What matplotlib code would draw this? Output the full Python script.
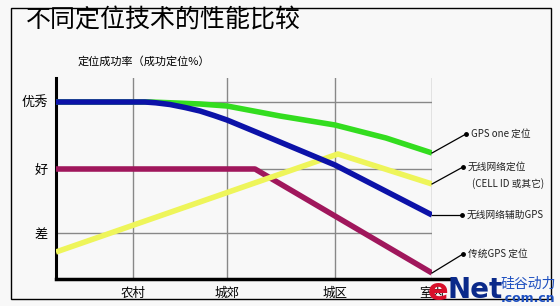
import matplotlib.pyplot as plt
from matplotlib.patches import Rectangle

plt.rcParams['font.family'] = ['Noto Sans CJK SC', 'DejaVu Sans']

# %% Data
title = '不同定位技术的性能比较'
ylabel = '定位成功率（成功定位%）'
x_labels = ['农村', '城郊', '城区', '室内']
x_pos = [0.77, 1.71, 2.79, 3.76]
y_labels = ['差', '好', '优秀']
y_pos = [0.46, 1.10, 1.77]

green_x = [0, 0.94, 1.20, 1.44, 1.71, 2.24, 2.79, 3.30, 3.76]
green_y = [1.77, 1.77, 1.76, 1.75, 1.73, 1.63, 1.54, 1.41, 1.26]
blue_x = [0, 0.89, 1.00, 1.14, 1.29, 1.44, 1.58, 1.71, 2.00, 2.79, 3.76]
blue_y = [1.77, 1.77, 1.762, 1.745, 1.715, 1.68, 1.635, 1.59, 1.47, 1.14, 0.64]
yellow_x = [0, 2.82, 3.76]
yellow_y = [0.27, 1.25, 0.95]
magenta_x = [0, 1.99, 3.76]
magenta_y = [1.10, 1.10, 0.06]

series = [
    (magenta_x, magenta_y, '#a0175c', '传统GPS 定位', (4.07, 0.25)),
    (yellow_x, yellow_y, '#eef55a', '无线网络定位', (4.07, 1.12)),
    (green_x, green_y, '#33dd1f', 'GPS one 定位', (4.10, 1.45)),
    (blue_x, blue_y, '#0c12a8', '无线网络辅助GPS', (4.06, 0.64)),
]

# %% Figure
fig = plt.figure(figsize=(5.6, 3.06), dpi=100, facecolor='#f8f8f8')
fig.patches.append(Rectangle((11 / 560, 1 - 299 / 306), 540 / 560, 291 / 306,
                             transform=fig.transFigure, fill=False,
                             edgecolor='black', lw=1))
ax = fig.add_axes([56 / 560, 1 - 279 / 306, 376 / 560, 201 / 306])
ax.set_facecolor('#f8f8f8')

for x, y, color, label, dot in series:
    ax.plot(x, y, color=color, lw=4, solid_capstyle='butt', zorder=3)
    # connector from line end to label
    ax.plot([x[-1], dot[0]], [y[-1], dot[1]], color='black', lw=0.9,
            clip_on=False, zorder=4)
    ax.plot(dot[0], dot[1], 'o', color='black', ms=2.5, clip_on=False)
    ax.text(dot[0] + 0.05, dot[1], label, fontsize=7, va='center',
            ha='left', color='#222222')
ax.text(4.16, 0.95, '(CELL ID 或其它)', fontsize=7, va='center',
        ha='left', color='#222222')

ax.set_xlim(0, 3.76)
ax.set_ylim(0, 2.01)
ax.set_xticks(x_pos)
ax.set_xticklabels(x_labels, fontsize=9)
ax.set_yticks(y_pos)
ax.set_yticklabels(y_labels, fontsize=9.5)
ax.tick_params(length=0, pad=6)
ax.grid(True, color='#888888', lw=1)
ax.set_axisbelow(True)
for side in ['top', 'right']:
    ax.spines[side].set_visible(False)
ax.spines['left'].set_linewidth(2.2)
ax.spines['bottom'].set_visible(False)
ax.plot([0, 1.06], [0, 0], color='black', lw=2.5, transform=ax.transAxes,
        clip_on=False, zorder=5)

fig.text(26 / 560, 1 - 21 / 306, title, fontsize=18, va='center', ha='left')
fig.text(78 / 560, 1 - 61 / 306, ylabel, fontsize=8, va='center', ha='left')

# watermark
fig.text(428 / 560, 1 - 292 / 306, 'e', fontsize=22, color='#d8102a',
         fontweight='bold', family='DejaVu Sans', va='center')
fig.text(447 / 560, 1 - 290 / 306, 'Net', fontsize=20, color='#0b2a8a',
         fontweight='bold', family='DejaVu Sans', va='center')
fig.text(501 / 560, 1 - 284 / 306, '硅谷动力', fontsize=10, color='#1d4fc0',
         va='center')
fig.text(501 / 560, 1 - 298 / 306, '.com.cn', fontsize=9, color='#1d4fc0',
         fontweight='bold', family='DejaVu Sans', va='center')

fig.savefig('out.png', dpi=100, facecolor=fig.get_facecolor())
